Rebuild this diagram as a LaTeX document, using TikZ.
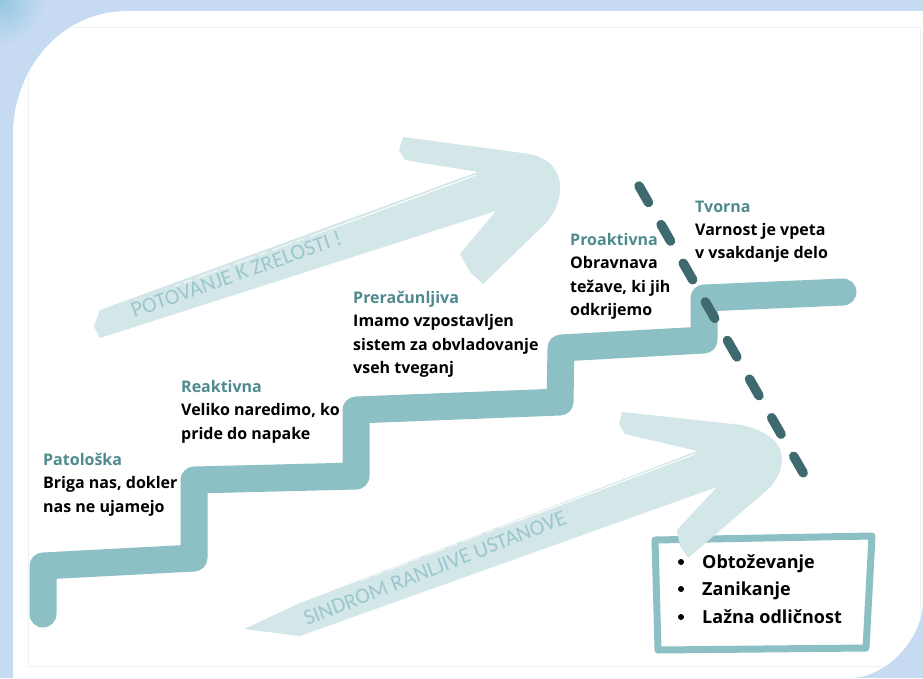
\documentclass[tikz,border=0pt]{standalone}
\usepackage{fontspec}
\setmainfont{Open Sans}
\newfontfamily\arrowfont{Carlito}
\definecolor{bgblue}{HTML}{C6DAF2}
\definecolor{tlblue}{HTML}{93C8E0}
\definecolor{stairteal}{HTML}{8DC0C5}
\definecolor{arrowfill}{HTML}{D3E6E8}
\definecolor{arrowtext}{HTML}{9BC8CD}
\definecolor{dashcol}{HTML}{3E6A6F}
\definecolor{headteal}{HTML}{4F8A8F}
\definecolor{framegray}{HTML}{EFF2F4}
\begin{document}
\begin{tikzpicture}[x=1pt,y=-1pt,
  lbl/.style={anchor=base west, inner sep=0pt, font=\bfseries\fontsize{16}{19}\selectfont, text=black},
  headlbl/.style={lbl, text=headteal},
  boxlbl/.style={anchor=base west, inner sep=0pt, font=\bfseries\fontsize{18}{21}\selectfont, text=black},
  bulletdot/.style={circle, fill=black, inner sep=0pt, minimum size=6pt},
  arrowlbl/.style={inner sep=0pt, anchor=base west, text=arrowtext, font=\arrowfont\fontsize{22}{26}\selectfont},
  stairline/.style={draw=stairteal, line width=27pt, line join=round, line cap=round},
  brusharrow/.style={fill=arrowfill},
  streak/.style={draw=white, line width=1pt},
  brokenstreak/.style={draw=white, line width=0.7pt, dash pattern=on 22pt off 5pt on 9pt off 4pt},
  dashline/.style={draw=dashcol, line width=9.5pt, line cap=round, dash pattern=on 19pt off 25.5pt}
]
\useasboundingbox (0,0) rectangle (923,678);
% background
\fill[bgblue] (0,0) rectangle (923,678);
\begin{scope}
  \clip (0,0) rectangle (923,678);
  \shade[inner color=tlblue, outer color=bgblue] (0,0) circle (45pt);
\end{scope}
\path[fill=white] (923,11) -- (128,11) .. controls (60,11) and (13,70) .. (13,135) -- (13,678) -- (850,678) .. controls (885,678) and (923,640) .. (923,600) -- cycle;
\begin{scope}
  \clip (923,11) -- (128,11) .. controls (60,11) and (13,70) .. (13,135) -- (13,678) -- (850,678) .. controls (885,678) and (923,640) .. (923,600) -- cycle;
  \draw[framegray, line width=0.8pt] (28,27) rectangle (920,666);
\end{scope}

% stairs
\draw[stairline] (43,614) -- (43,566) -- (194,558) -- (194,480) -- (356,476) -- (356,410) -- (560,402) -- (561,348) -- (704,340) -- (704,298) -- (843,292);

% box
\draw[stairteal, line width=7pt, line join=round] (655,540) -- (872,536) -- (866,648) -- (658,650) -- cycle;

% top arrow
\fill[brusharrow] (94,326) -- (100,310) -- (478,172) -- (405,160) -- (399,150) -- (403,137) -- (530,154)
  .. controls (556,160) and (563,178) .. (559,198) .. controls (556,210) and (552,216) .. (545,224) -- (483,284) -- (470,272) -- (460,254) -- (496,211) -- (100,338) -- cycle;
\draw[streak] (476,175) -- (330,229);
\draw[brokenstreak] (330,229) -- (175,286);
% bottom arrow
\fill[brusharrow] (244,629) -- (300,603) -- (697,451) -- (625,434) -- (619,424) -- (622,412) -- (742,425)
  .. controls (775,433) and (785,448) .. (781,467) .. controls (779,476) and (774,484) .. (766,491) -- (688,558) -- (680,546) -- (677,530) -- (717,487) -- (300,636) -- cycle;
\draw[streak] (695,454) -- (520,520);
\draw[brokenstreak] (520,520) -- (360,581);

% arrow texts
\node[arrowlbl, rotate=19.5] (tpot) at (134,318) {POTOVANJE K ZRELOSTI !};
\node[arrowlbl, rotate=21.5] (tsin) at (307,626) {SINDROM RANLJIVE USTANOVE};

% dashed line
\coordinate (dA) at (639,186);
\coordinate (dB) at (805,476);
\draw[dashline] (dA) -- (dB);

% labels
\node[headlbl] (h1) at (43,465) {Patološka};
\node[lbl] (h1a) at (43,488.5) {Briga nas, dokler};
\node[lbl] (h1b) at (43,512) {nas ne ujamejo};

\node[headlbl] (h2) at (181,392) {Reaktivna};
\node[lbl] (h2a) at (181,415.5) {Veliko naredimo, ko};
\node[lbl] (h2b) at (181,439) {pride do napake};

\node[headlbl] (h3) at (353,303) {Preračunljiva};
\node[lbl] (h3a) at (353,326.5) {Imamo vzpostavljen};
\node[lbl] (h3b) at (353,350) {sistem za obvladovanje};
\node[lbl] (h3c) at (353,373.5) {vseh tveganj};

\node[headlbl] (h4) at (570,245) {Proaktivna};
\node[lbl] (h4a) at (570,268.5) {Obravnava};
\node[lbl] (h4b) at (570,292) {težave, ki jih};
\node[lbl] (h4c) at (570,315.5) {odkrijemo};

\node[headlbl] (h5) at (695,212) {Tvorna};
\node[lbl] (h5a) at (695,235) {Varnost je vpeta};
\node[lbl] (h5b) at (695,258.5) {v vsakdanje delo};

% box list
\node[bulletdot] (b1) at (681,562) {};
\node[bulletdot] (b2) at (681,589) {};
\node[bulletdot] (b3) at (681,617) {};
\node[boxlbl] (l1) at (702,568) {Obtoževanje};
\node[boxlbl] (l2) at (702,595) {Zanikanje};
\node[boxlbl] (l3) at (702,623) {Lažna odličnost};
\end{tikzpicture}
\end{document}
